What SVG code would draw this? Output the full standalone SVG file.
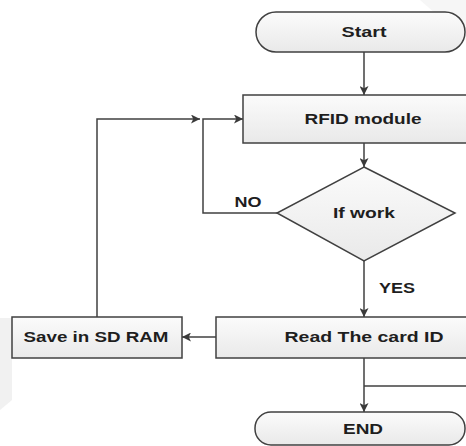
<svg xmlns="http://www.w3.org/2000/svg" width="466" height="446" viewBox="0 0 466 446">
<defs>
<linearGradient id="g" x1="0" y1="0" x2="0" y2="1">
<stop offset="0" stop-color="#fbfbfb"/>
<stop offset="1" stop-color="#e9e9e9"/>
</linearGradient>
<marker id="a" viewBox="0 0 10 10" refX="10" refY="5" markerWidth="10" markerHeight="9" markerUnits="userSpaceOnUse" orient="auto">
<path d="M0,0 L10,5 L0,10 L2.5,5 z" fill="#3a3a3a"/>
</marker>
<style>
.n{fill:url(#g);stroke:#404040;stroke-width:1.5}
.c{fill:none;stroke:#404040;stroke-width:1.5}
.t{font-family:"Liberation Sans",Arial,sans-serif;font-weight:bold;font-size:14px;fill:#1e1e1e;text-anchor:middle}
</style>
</defs>
<rect width="466" height="446" fill="#fff"/>
<polygon points="0,318 12,318 12,400 0,410" fill="#f1f1f1"/>
<polygon points="420,0 466,0 466,40" fill="#f6f6f6"/>
<g id="connectors">
<line class="c" x1="364" y1="52" x2="364" y2="95" marker-end="url(#a)"/>
<line class="c" x1="364" y1="143" x2="364" y2="167" marker-end="url(#a)"/>
<polyline class="c" points="277,213 203,213 203,119 243,119" marker-end="url(#a)"/>
<polyline class="c" points="97,317 97,119 200,119" marker-end="url(#a)"/>
<line class="c" x1="364" y1="261" x2="364" y2="317" marker-end="url(#a)"/>
<line class="c" x1="216" y1="337" x2="182" y2="337" marker-end="url(#a)"/>
<line class="c" x1="364" y1="358" x2="364" y2="412" marker-end="url(#a)"/>
<line class="c" x1="364" y1="386" x2="466" y2="386"/>
<text class="t" x="248" y="207" textLength="27" lengthAdjust="spacingAndGlyphs">NO</text>
<text class="t" x="397" y="293" textLength="36" lengthAdjust="spacingAndGlyphs">YES</text>
</g>
<g id="start">
<rect class="n" x="256" y="12" width="209" height="40" rx="20" ry="20"/>
<text class="t" x="364" y="37" textLength="45" lengthAdjust="spacingAndGlyphs">Start</text>
</g>
<g id="rfid">
<rect class="n" x="243" y="95" width="230" height="48"/>
<text class="t" x="363" y="124" textLength="117" lengthAdjust="spacingAndGlyphs">RFID module</text>
</g>
<g id="ifwork">
<polygon class="n" points="364,167 455,213 364,261 277,213"/>
<text class="t" x="364" y="218" textLength="62" lengthAdjust="spacingAndGlyphs">If work</text>
</g>
<g id="read">
<rect class="n" x="216" y="317" width="260" height="41"/>
<text class="t" x="364" y="342" textLength="159" lengthAdjust="spacingAndGlyphs">Read The card ID</text>
</g>
<g id="save">
<rect class="n" x="12" y="317" width="170" height="41"/>
<text class="t" x="96" y="342" textLength="145" lengthAdjust="spacingAndGlyphs">Save in SD RAM</text>
</g>
<g id="end">
<rect class="n" x="255" y="412" width="210" height="33" rx="16" ry="16"/>
<text class="t" x="363" y="434" textLength="40" lengthAdjust="spacingAndGlyphs">END</text>
</g>
</svg>
